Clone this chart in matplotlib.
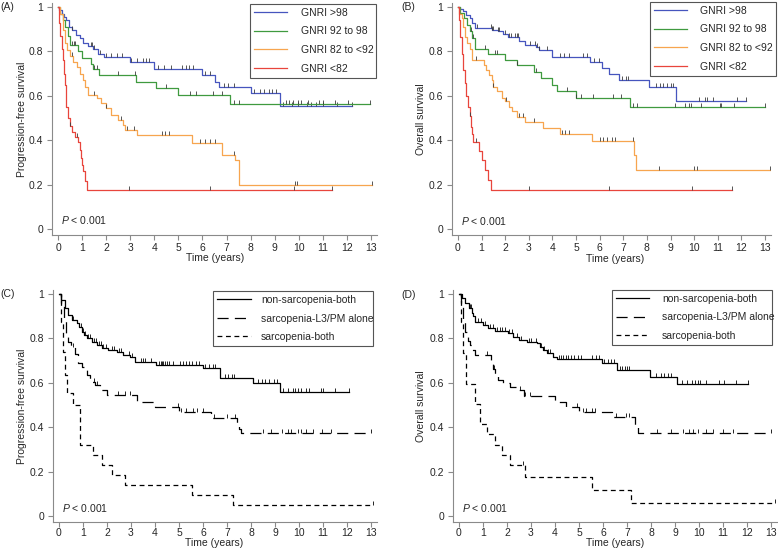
import matplotlib
matplotlib.use('Agg')
import matplotlib.pyplot as plt
import matplotlib.transforms as mtransforms
import numpy as np

plt.rcParams['font.family'] = ['Liberation Sans', 'DejaVu Sans']
plt.rcParams['mathtext.fontset'] = 'custom'
plt.rcParams['mathtext.it'] = 'Liberation Sans:italic'
plt.rcParams['mathtext.rm'] = 'Liberation Sans'
plt.rcParams['lines.scale_dashes'] = False

# ---------------- data ----------------
x_ticks = list(range(14))
y_ticks = [0, 0.2, 0.4, 0.6, 0.8, 1]
y_tick_labels = ['0', '0.2', '0.4', '0.6', '0.8', '1']

gnri_labels = ['GNRI >98', 'GNRI 92 to 98', 'GNRI 82 to <92', 'GNRI <82']
sarc_labels = ['non-sarcopenia-both', 'sarcopenia-L3/PM alone', 'sarcopenia-both']

# Panel A: progression-free survival by GNRI
A_blue_t = [0.05, 0.15, 0.25, 0.35, 0.45, 0.6, 0.75, 0.9, 1.05, 1.25, 1.45, 1.65, 1.9, 3.0, 4.0, 6.0, 6.5, 6.7, 8.0, 9.2]
A_blue_s = [0.985, 0.97, 0.955, 0.94, 0.91, 0.895, 0.875, 0.86, 0.84, 0.825, 0.81, 0.79, 0.775, 0.752, 0.72, 0.694, 0.664, 0.641, 0.611, 0.556]
A_blue_end = 12.2
A_blue_c = [0.6, 1.35, 1.42, 1.5, 1.75, 2.0, 2.2, 2.45, 2.65, 3.05, 3.3, 3.55, 3.65, 3.8, 4.15, 4.4, 4.7, 5.15, 5.3,
            5.45, 5.6, 6.1, 6.3, 6.9, 7.05, 7.3, 8.15, 8.4, 8.55, 8.75, 8.9, 9.05, 9.35, 9.7, 9.95, 10.35, 10.5, 10.7,
            11.0, 11.6, 12.2]
A_green_t = [0.08, 0.2, 0.3, 0.4, 0.5, 0.85, 1.0, 1.35, 1.45, 1.7, 3.25, 4.05, 5.0, 7.15]
A_green_s = [0.97, 0.94, 0.91, 0.87, 0.83, 0.80, 0.77, 0.745, 0.72, 0.694, 0.664, 0.634, 0.604, 0.562]
A_green_end = 12.95
A_green_c = [0.6, 0.65, 0.7, 1.5, 1.6, 2.5, 3.2, 4.5, 5.5, 5.75, 6.45, 6.8, 7.3, 7.5, 9.45, 9.6, 9.75, 9.95, 10.1,
             10.4, 10.85, 11.0, 11.5, 12.05, 12.95]
A_orange_t = [0.08, 0.19, 0.29, 0.36, 0.5, 0.64, 0.78, 0.91, 1.05, 1.12, 1.26, 1.6, 1.8, 2.0, 2.2, 2.5, 2.7, 2.78,
              3.27, 5.55, 6.8, 7.35, 7.5]
A_orange_s = [0.97, 0.896, 0.836, 0.806, 0.78, 0.754, 0.73, 0.70, 0.67, 0.64, 0.604, 0.59, 0.566, 0.544, 0.514, 0.49,
              0.47, 0.446, 0.423, 0.389, 0.333, 0.31, 0.198]
A_orange_end = 13.05
A_orange_c = [0.57, 1.5, 2.0, 2.6, 2.85, 3.15, 4.3, 4.45, 4.6, 5.9, 6.1, 6.3, 6.5, 7.3, 9.85, 9.92, 13.05]
A_red_t = [0.05, 0.1, 0.15, 0.2, 0.25, 0.3, 0.35, 0.42, 0.5, 0.6, 0.7, 0.82, 0.9, 0.95, 1.0, 1.05, 1.12, 1.19]
A_red_s = [0.93, 0.87, 0.81, 0.76, 0.70, 0.65, 0.55, 0.50, 0.465, 0.435, 0.415, 0.394, 0.355, 0.32, 0.29, 0.26, 0.215, 0.176]
A_red_end = 11.4
A_red_c = [0.5, 0.8, 2.95, 6.3, 9.8, 11.4]

# Panel B: overall survival by GNRI
B_blue_t = [0.1, 0.2, 0.35, 0.5, 0.6, 0.72, 1.45, 1.7, 1.92, 2.13, 2.6, 2.85, 3.3, 3.45, 4.0, 5.6, 6.1, 6.4, 6.8, 8.1, 9.25]
B_blue_s = [0.99, 0.98, 0.965, 0.95, 0.93, 0.905, 0.897, 0.89, 0.877, 0.866, 0.845, 0.83, 0.82, 0.805, 0.773, 0.75,
            0.725, 0.70, 0.671, 0.638, 0.576]
B_blue_end = 12.2
B_blue_c = [0.8, 1.4, 1.45, 1.5, 1.7, 1.75, 2.0, 2.15, 2.25, 2.4, 2.5, 2.55, 3.05, 3.25, 3.35, 3.45, 3.75, 4.3, 4.5,
            4.7, 5.3, 5.45, 5.75, 5.95, 6.95, 7.1, 7.2, 8.4, 8.55, 8.7, 8.85, 9.0, 9.1, 10.2, 10.45, 10.55, 10.8, 11.8, 12.2]
B_green_t = [0.08, 0.25, 0.4, 0.5, 0.6, 0.7, 1.25, 2.0, 2.5, 3.2, 3.5, 4.0, 4.2, 5.0, 7.27]
B_green_s = [0.975, 0.95, 0.92, 0.89, 0.86, 0.81, 0.79, 0.76, 0.74, 0.708, 0.678, 0.648, 0.623, 0.592, 0.551]
B_green_end = 13.0
B_green_c = [0.55, 0.62, 1.15, 1.55, 1.65, 2.5, 3.3, 4.6, 5.0, 5.2, 5.7, 6.55, 6.9, 7.4, 7.6, 9.2, 9.6, 9.8, 9.85,
             10.3, 11.1, 11.15, 11.7, 13.0]
B_orange_t = [0.05, 0.15, 0.22, 0.3, 0.37, 0.5, 0.6, 1.1, 1.2, 1.3, 1.43, 1.5, 1.64, 1.85, 2.0, 2.15, 2.3, 2.48, 2.84,
              3.6, 4.3, 5.66, 7.45, 7.55]
B_orange_s = [0.97, 0.95, 0.91, 0.866, 0.836, 0.81, 0.76, 0.74, 0.716, 0.694, 0.67, 0.64, 0.62, 0.59, 0.575, 0.55,
              0.53, 0.505, 0.483, 0.453, 0.43, 0.398, 0.335, 0.266]
B_orange_end = 13.2
B_orange_c = [0.75, 1.5, 2.05, 2.6, 2.75, 3.2, 4.4, 4.55, 4.7, 6.0, 6.15, 6.3, 6.5, 6.65, 7.4, 8.5, 10.0, 10.1, 13.2]
B_red_t = [0.05, 0.1, 0.17, 0.22, 0.3, 0.34, 0.44, 0.5, 0.54, 0.6, 0.65, 0.9, 1.0, 1.13, 1.27, 1.4]
B_red_s = [0.94, 0.866, 0.79, 0.716, 0.656, 0.60, 0.55, 0.51, 0.46, 0.43, 0.394, 0.35, 0.31, 0.266, 0.22, 0.175]
B_red_end = 11.6
B_red_c = [0.5, 0.75, 3.0, 6.4, 9.9, 11.6]

# Panel C: progression-free survival by sarcopenia
C_solid_t = [0.1, 0.25, 0.39, 0.53, 0.74, 0.85, 0.95, 1.05, 1.15, 1.36, 1.57, 1.78, 2.06, 2.4, 2.68, 2.96, 3.17, 4.05,
             6.0, 6.7, 8.1, 9.2]
C_solid_s = [0.973, 0.935, 0.905, 0.883, 0.868, 0.85, 0.83, 0.815, 0.8, 0.785, 0.77, 0.755, 0.748, 0.74, 0.725, 0.718,
             0.695, 0.68, 0.665, 0.62, 0.598, 0.557]
C_solid_end = 12.1
C_solid_c = [0.55, 0.6, 0.9, 1.0, 1.1, 1.2, 1.3, 1.45, 1.55, 1.65, 1.75, 1.85, 1.95, 2.2, 2.3, 2.5, 2.6, 2.9, 3.05,
             3.4, 3.5, 3.6, 3.85, 4.15, 4.25, 4.3, 4.35, 4.4, 4.5, 4.6, 4.75, 5.05, 5.15, 5.3, 5.4, 5.55, 5.7, 5.85,
             6.1, 6.25, 6.4, 6.5, 6.9, 7.05, 7.2, 7.3, 8.3, 8.45, 8.6, 8.75, 8.95, 9.1, 9.35, 9.55, 9.75, 9.85, 9.95,
             10.1, 10.3, 10.4, 10.9, 11.0, 11.5, 12.1]
C_dash_t = [0.1, 0.2, 0.29, 0.39, 0.5, 0.67, 0.8, 0.95, 1.08, 1.15, 1.3, 1.5, 1.7, 2.0, 3.25, 4.0, 5.0, 6.35, 7.4, 7.5, 7.6]
C_dash_s = [0.95, 0.89, 0.815, 0.785, 0.76, 0.73, 0.69, 0.672, 0.658, 0.635, 0.605, 0.59, 0.568, 0.545, 0.515, 0.49,
            0.47, 0.44, 0.41, 0.39, 0.372]
C_dash_end = 13.0
C_dash_c = [0.6, 1.45, 1.6, 2.45, 2.75, 2.95, 4.95, 5.1, 5.3, 5.6, 5.75, 6.0, 6.45, 7.0, 7.35, 8.5, 8.85, 9.3, 9.55,
            9.65, 9.95, 10.1, 10.3, 10.6, 10.95, 11.35, 13.0]
C_short_t = [0.08, 0.18, 0.25, 0.32, 0.57, 0.88, 1.43, 1.78, 2.2, 2.75, 5.55, 7.25]
C_short_s = [0.875, 0.74, 0.635, 0.553, 0.5, 0.32, 0.275, 0.23, 0.185, 0.14, 0.095, 0.048]
C_short_end = 13.1
C_short_c = [13.1]

# Panel D: overall survival by sarcopenia
D_solid_t = [0.11, 0.25, 0.4, 0.53, 0.6, 0.67, 1.0, 1.2, 1.5, 2.05, 2.26, 2.5, 2.82, 3.24, 3.37, 3.5, 3.65, 3.93, 4.07,
             5.94, 6.6, 7.96, 9.1]
D_solid_s = [0.98, 0.958, 0.935, 0.913, 0.9, 0.875, 0.86, 0.845, 0.835, 0.823, 0.808, 0.795, 0.785, 0.778, 0.763,
             0.748, 0.733, 0.718, 0.708, 0.688, 0.658, 0.628, 0.593]
D_solid_end = 12.05
D_solid_c = [0.45, 0.5, 0.8, 0.9, 1.1, 1.3, 1.4, 1.6, 1.7, 1.8, 1.9, 2.1, 2.2, 2.4, 2.6, 2.9, 3.0, 3.2, 3.4, 3.55, 3.7,
             3.8, 4.15, 4.25, 4.35, 4.45, 4.55, 4.65, 4.8, 4.95, 5.1, 5.55, 5.7, 5.85, 6.05, 6.2, 6.35, 6.45, 6.7, 6.8,
             6.9, 7.0, 7.1, 8.2, 8.4, 8.55, 8.7, 8.85, 9.3, 9.5, 9.7, 9.85, 9.95, 10.05, 10.3, 10.85, 11.05, 11.55, 12.05]
D_dash_t = [0.07, 0.18, 0.25, 0.39, 0.46, 0.53, 0.67, 1.35, 1.42, 1.5, 1.64, 1.85, 2.12, 2.4, 2.7, 4.0, 4.45, 5.0,
            6.36, 7.35, 7.45]
D_dash_s = [0.95, 0.875, 0.83, 0.79, 0.77, 0.748, 0.725, 0.70, 0.66, 0.635, 0.613, 0.598, 0.583, 0.568, 0.54, 0.515,
            0.49, 0.47, 0.445, 0.40, 0.372]
D_dash_end = 13.0
D_dash_c = [1.15, 1.45, 2.55, 2.75, 2.95, 4.9, 5.15, 5.3, 5.55, 5.65, 6.55, 6.95, 7.1, 8.25, 8.85, 9.35, 9.6, 9.75,
            9.95, 10.3, 10.6, 11.0, 11.4, 13.0]
D_short_t = [0.07, 0.15, 0.3, 0.65, 0.87, 1.15, 1.5, 1.78, 2.12, 2.75, 5.53, 7.15]
D_short_s = [0.875, 0.735, 0.595, 0.505, 0.415, 0.37, 0.32, 0.275, 0.23, 0.177, 0.117, 0.057]
D_short_end = 13.15
D_short_c = [2.68, 13.15]

p_text = '$P$ < 0.001'

# ---------------- styles ----------------
W, H = 778, 553
C_BLUE, C_GREEN, C_ORANGE, C_RED = '#4655be', '#3f9a3f', '#f7a54f', '#e8453c'
AX_COL = '#8a8a8a'
TXT_COL = '#262626'
CENS_COL = '#3a3a3a'
FS = 7.5

fig = plt.figure(figsize=(W / 100, H / 100), dpi=100)
pix = mtransforms.Affine2D().scale(1.0 / W, -1.0 / H).translate(0, 1) + fig.transFigure


def make_axes(x0, x13, y1, y0, xpad):
    ppx = (x13 - x0) / 13.0
    ppy = y0 - y1
    xl, xr = -0.25, 13.25
    yb, yt = -0.027, 1.018
    left = x0 + xl * ppx
    right = x0 + xr * ppx
    top = y0 - yt * ppy
    bottom = y0 - yb * ppy
    ax = fig.add_axes([left / W, 1 - bottom / H, (right - left) / W, (bottom - top) / H])
    ax.set_xlim(xl, xr)
    ax.set_ylim(yb, yt)
    for s in ['top', 'right']:
        ax.spines[s].set_visible(False)
    for s in ['left', 'bottom']:
        ax.spines[s].set_color(AX_COL)
        ax.spines[s].set_linewidth(0.8)
    ax.set_xticks(x_ticks)
    ax.set_yticks(y_ticks)
    ax.set_yticklabels(y_tick_labels)
    ax.tick_params(axis='both', direction='out', length=3.5, width=0.8, color=AX_COL,
                   labelsize=FS, labelcolor=TXT_COL)
    ax.tick_params(axis='x', pad=xpad)
    ax.tick_params(axis='y', pad=3)
    return ax


def km(ax, t, s, end, cens, **kw):
    tt = [0.0] + list(t) + [end]
    ss = [1.0] + list(s) + [s[-1]]
    line, = ax.step(tt, ss, where='post', **kw)
    tarr = np.array(tt[:-1])
    sarr = np.array(ss[:-1])
    idx = np.searchsorted(tarr, np.array(cens), side='right') - 1
    cy = sarr[idx]
    ax.plot(cens, cy, linestyle='none', marker=2, markersize=3.2, markeredgewidth=0.6,
            color=CENS_COL if kw.get('color', 'k') != 'k' else 'k')
    return line


def finish(ax, ylab, ylab_px, xlab_px, letter, letter_px, p_xy):
    ax.set_ylabel(ylab, fontsize=FS, color=TXT_COL)
    ax.yaxis.set_label_coords(ylab_px[0], ylab_px[1], transform=pix)
    ax.set_xlabel('Time (years)', fontsize=FS, color=TXT_COL)
    ax.xaxis.set_label_coords(xlab_px[0], xlab_px[1], transform=pix)
    fig.text(letter_px[0], letter_px[1], letter, transform=pix, fontsize=FS, color=TXT_COL,
             ha='left', va='center')
    ax.text(p_xy[0], p_xy[1], p_text, fontsize=FS, color=TXT_COL, ha='left', va='center')


def legend(ax, handles, labels, box_px, handlelen, textpad):
    x0, y0, x1, y1 = box_px
    leg = ax.legend(handles, labels, loc='upper left', mode='expand',
                    bbox_to_anchor=(x0 / W, 1 - y1 / H, (x1 - x0) / W, (y1 - y0) / H),
                    bbox_transform=fig.transFigure, borderaxespad=0, fontsize=FS,
                    handlelength=handlelen, handletextpad=textpad, borderpad=0.38,
                    labelspacing=0.82, frameon=True, fancybox=False, framealpha=1)
    fr = leg.get_frame()
    fr.set_edgecolor('#555555')
    fr.set_linewidth(0.8)
    for t in leg.get_texts():
        t.set_color(TXT_COL)
    return leg


LW = 0.9
LONG = (0, (8, 4.5))
SHORT = (0, (3.5, 2.6))

# ---- Panel A ----
axA = make_axes(58, 371, 7, 229, 2.5)
hA = [km(axA, A_blue_t, A_blue_s, A_blue_end, A_blue_c, color=C_BLUE, lw=LW),
      km(axA, A_green_t, A_green_s, A_green_end, A_green_c, color=C_GREEN, lw=LW),
      km(axA, A_orange_t, A_orange_s, A_orange_end, A_orange_c, color=C_ORANGE, lw=LW),
      km(axA, A_red_t, A_red_s, A_red_end, A_red_c, color=C_RED, lw=LW)]
finish(axA, 'Progression-free survival', (27, 119), (215, 253), '(A)', (0, 7), (0.12, 0.04))
legend(axA, hA, gnri_labels, (250, 4, 376, 75), 3.17, 1.3)

# ---- Panel B ----
axB = make_axes(458, 765, 7, 229, 2.5)
hB = [km(axB, B_blue_t, B_blue_s, B_blue_end, B_blue_c, color=C_BLUE, lw=LW),
      km(axB, B_green_t, B_green_s, B_green_end, B_green_c, color=C_GREEN, lw=LW),
      km(axB, B_orange_t, B_orange_s, B_orange_end, B_orange_c, color=C_ORANGE, lw=LW),
      km(axB, B_red_t, B_red_s, B_red_end, B_red_c, color=C_RED, lw=LW)]
finish(axB, 'Overall survival', (426, 119), (615, 254), '(B)', (401, 7), (0.13, 0.036))
legend(axB, hB, gnri_labels, (650, 2, 776, 75), 3.17, 1.25)

# ---- Panel C ----
axC = make_axes(59, 371, 294, 516, 1.0)
hC = [km(axC, C_solid_t, C_solid_s, C_solid_end, C_solid_c, color='k', lw=LW),
      km(axC, C_dash_t, C_dash_s, C_dash_end, C_dash_c, color='k', lw=LW, linestyle=LONG),
      km(axC, C_short_t, C_short_s, C_short_end, C_short_c, color='k', lw=LW, linestyle=SHORT)]
finish(axC, 'Progression-free survival', (27, 406), (214, 538), '(C)', (0, 294), (0.12, 0.036))
legend(axC, hC, sarc_labels, (213, 291, 373, 343), 3.26, 0.96)

# ---- Panel D ----
axD = make_axes(459, 771, 294, 516, 1.0)
hD = [km(axD, D_solid_t, D_solid_s, D_solid_end, D_solid_c, color='k', lw=LW),
      km(axD, D_dash_t, D_dash_s, D_dash_end, D_dash_c, color='k', lw=LW, linestyle=LONG),
      km(axD, D_short_t, D_short_s, D_short_end, D_short_c, color='k', lw=LW, linestyle=SHORT)]
finish(axD, 'Overall survival', (426, 406), (615, 538), '(D)', (401, 295), (0.13, 0.036))
legend(axD, hD, sarc_labels, (612, 290, 772, 343), 3.17, 1.25)

fig.savefig('out.png', dpi=100)
